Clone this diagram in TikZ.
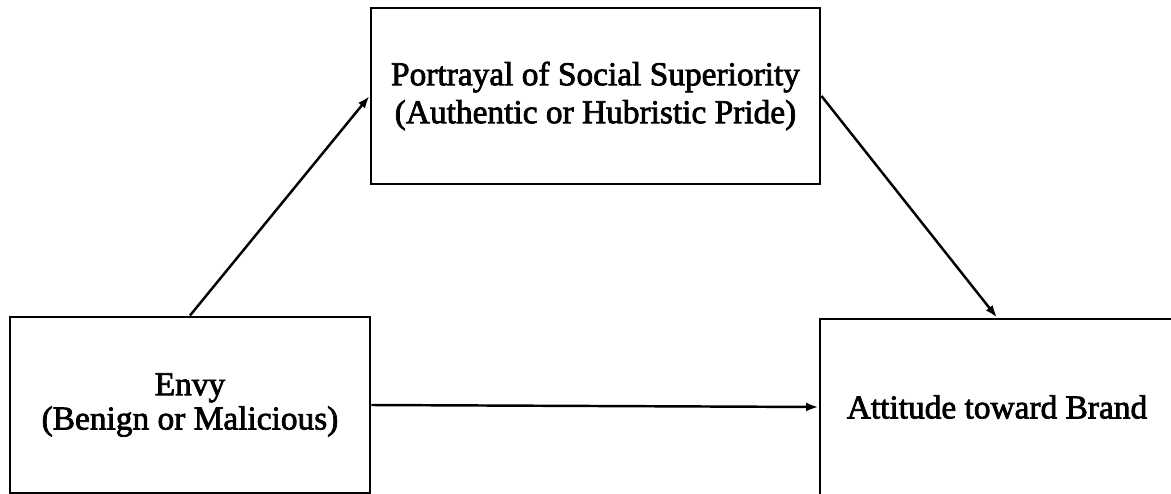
\documentclass[tikz,border=0pt]{standalone}
\usepackage{fontspec}
\setmainfont{Liberation Serif}
\newfontfamily\boxfont[FakeBold=2.2]{Liberation Serif}
\usepackage{tikz}
\usetikzlibrary{arrows.meta}

\begin{document}
\begin{tikzpicture}[x=0.02cm, y=-0.02cm, >={Latex[length=7pt,width=5pt]},
    box/.style={draw, line width=1.7pt, inner sep=0pt, align=center,
      font=\boxfont\fontsize{19}{21.6}\selectfont}]
  \useasboundingbox (0,0) rectangle (1171,494);
  % Boxes
  \node[box, minimum width=449*0.02cm, minimum height=176*0.02cm] (pride) at (595.5,96)
    {Portrayal of Social Superiority\\(Authentic or Hubristic Pride)};
  \node[box, minimum width=360*0.02cm, minimum height=176*0.02cm,
    font=\boxfont\fontsize{19}{19.5}\selectfont] (envy) at (190,405)
    {Envy\\(Benign or Malicious)};
  \node[box, minimum width=354*0.02cm, minimum height=176*0.02cm] (brand) at (997,407)
    {Attitude toward Brand};
  % Paths
  \path[->, line width=1.4pt] (envy.north) edge (pride.west);
  \path[->, line width=1.4pt] (pride.east) edge (brand.north);
  \path[->, line width=1.4pt] (envy.east) edge (brand.west);
\end{tikzpicture}
\end{document}
